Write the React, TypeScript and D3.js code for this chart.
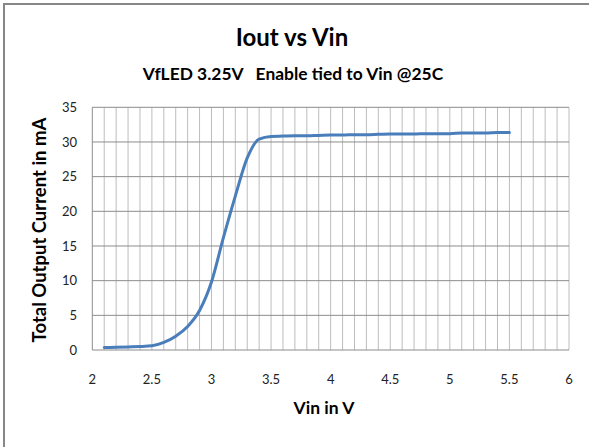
import React, { useEffect, useRef } from 'react';
import * as d3 from 'd3';

// Vin (V) and total output current (mA)
const vin = [2.1, 2.2, 2.3, 2.4, 2.5, 2.6, 2.7, 2.8, 2.9, 3.0, 3.1, 3.2, 3.3, 3.4, 3.5, 3.6, 3.7, 3.8, 3.9, 4.0,
  4.1, 4.2, 4.3, 4.4, 4.5, 4.6, 4.7, 4.8, 4.9, 5.0, 5.1, 5.2, 5.3, 5.4, 5.5];
const iout = [0.35, 0.4, 0.45, 0.5, 0.6, 1.1, 2.0, 3.4, 5.7, 9.8, 16.2, 22.2, 27.7, 30.4, 30.8, 30.85, 30.9, 30.9, 30.95, 31.0,
  31.0, 31.05, 31.05, 31.1, 31.15, 31.15, 31.15, 31.2, 31.2, 31.2, 31.3, 31.3, 31.3, 31.35, 31.35];

const xTicks = [2, 2.5, 3, 3.5, 4, 4.5, 5, 5.5, 6];
const yTicks = [0, 5, 10, 15, 20, 25, 30, 35];

const W = 589;
const H = 447;

const App: React.FC = () => {
  const svgRef = useRef<SVGSVGElement | null>(null);

  useEffect(() => {
    if (!svgRef.current) return;
    const svg = d3.select(svgRef.current);
    svg.selectAll('*').remove();

    const x = d3.scaleLinear().domain([2, 6]).range([92.3, 569]);
    const y = d3.scaleLinear().domain([0, 35]).range([350, 107.3]);

    // chart area with its frame (only left and top edges are inside the picture)
    svg.append('rect').attr('x', 0).attr('y', 0).attr('width', W).attr('height', H).attr('fill', '#fff');
    svg.append('rect')
      .attr('x', 4).attr('y', 4).attr('width', W + 10).attr('height', H + 10)
      .attr('fill', 'none').attr('stroke', '#878787').attr('stroke-width', 2);

    // vertical minor gridlines every 0.1 V
    const vLines = d3.range(21, 61).map(d => d / 10);
    svg.append('g').selectAll('line')
      .data(vLines)
      .enter()
      .append('line')
      .attr('x1', d => x(d)).attr('x2', d => x(d))
      .attr('y1', y(35)).attr('y2', y(0))
      .attr('stroke', '#bdbdbd').attr('stroke-width', 1);

    // horizontal gridlines
    svg.append('g').selectAll('line')
      .data(yTicks)
      .enter()
      .append('line')
      .attr('x1', x(2)).attr('x2', x(6))
      .attr('y1', d => y(d)).attr('y2', d => y(d))
      .attr('stroke', '#8c8c8c').attr('stroke-width', 1);

    svg.append('line').attr('x1', x(2)).attr('x2', x(2)).attr('y1', y(35)).attr('y2', y(0))
      .attr('stroke', '#8c8c8c');

    const font = 'Lato, "Liberation Sans", sans-serif';

    svg.append('g').selectAll('text')
      .data(yTicks)
      .enter()
      .append('text')
      .attr('x', 77).attr('y', d => y(d))
      .attr('dy', '0.35em')
      .attr('text-anchor', 'end')
      .style('font-family', font).style('font-size', '13px').attr('fill', '#222')
      .text(d => d);

    svg.append('g').selectAll('text')
      .data(xTicks)
      .enter()
      .append('text')
      .attr('x', d => x(d)).attr('y', 379)
      .attr('dy', '0.35em')
      .attr('text-anchor', 'middle')
      .style('font-family', font).style('font-size', '13px').attr('fill', '#222')
      .text(d => d);

    // the curve
    const line = d3.line<number>()
      .x((_, i) => x(vin[i]))
      .y(d => y(d))
      .curve(d3.curveMonotoneX);
    svg.append('path')
      .datum(iout)
      .attr('d', line)
      .attr('fill', 'none')
      .attr('stroke', '#4a7ebb')
      .attr('stroke-width', 3)
      .attr('stroke-linecap', 'round');

    // titles
    svg.append('text')
      .attr('x', 292).attr('y', 46)
      .attr('text-anchor', 'middle')
      .style('font-family', font).style('font-size', '24px').style('font-weight', 'bold')
      .text('Iout vs Vin');
    svg.append('text')
      .attr('x', 293).attr('y', 80)
      .attr('text-anchor', 'middle')
      .attr('xml:space', 'preserve')
      .style('white-space', 'pre')
      .style('font-family', font).style('font-size', '17.4px').style('font-weight', 'bold')
      .text('VfLED 3.25V   Enable tied to Vin @25C');
    svg.append('text')
      .attr('x', 324).attr('y', 414)
      .attr('text-anchor', 'middle')
      .style('font-family', font).style('font-size', '17.5px').style('font-weight', 'bold')
      .text('Vin in V');
    svg.append('text')
      .attr('transform', `translate(45.5, ${(113 + 347) / 2}) rotate(-90)`)
      .attr('text-anchor', 'middle')
      .style('font-family', font).style('font-size', '18.5px').style('font-weight', 'bold')
      .text('Total Output Current in mA');
  }, []);

  return (
    <div style={{ position: 'absolute', left: 0, top: 0 }}>
      <svg ref={svgRef} width={W} height={H} style={{ display: 'block' }} />
    </div>
  );
};

export default App;
